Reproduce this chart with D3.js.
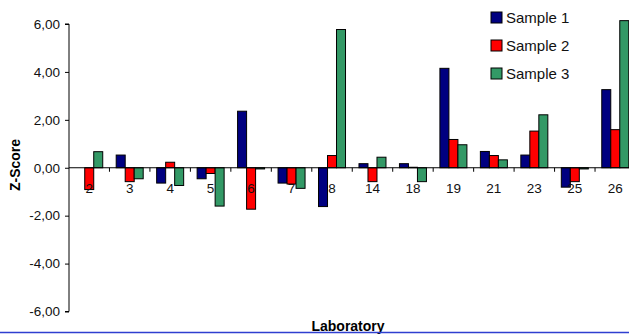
<!DOCTYPE html>
<html>
<head>
<meta charset="utf-8">
<script src="https://cdn.jsdelivr.net/npm/d3@7"></script>
<style>
  html, body { margin: 0; padding: 0; background: #fff; }
  svg { display: block; font-family: "Liberation Sans", Arial, sans-serif; }
</style>
</head>
<body>
<svg id="chart" width="629" height="334"></svg>
<script>
// Z-scores per laboratory for three samples
const laboratories = ["2", "3", "4", "5", "6", "7", "8", "14", "18", "19", "21", "23", "25", "26"];
const seriesNames = ["Sample 1", "Sample 2", "Sample 3"];
const sample1 = [0.00, 0.53, -0.64, -0.46, 2.36, -0.64, -1.62, 0.17, 0.17, 4.15, 0.68, 0.53, -0.81, 3.26];
const sample2 = [-0.91, -0.58, 0.23, -0.24, -1.73, -0.68, 0.51, -0.58, 0.02, 1.18, 0.51, 1.53, -0.58, 1.59];
const sample3 = [0.67, -0.46, -0.74, -1.60, -0.05, -0.86, 5.77, 0.44, -0.58, 0.96, 0.33, 2.21, -0.05, 6.14];
const seriesColors = ["#000080", "#FF0000", "#339966"];
const yTicks = [-6, -4, -2, 0, 2, 4, 6];

const seriesValues = [sample1, sample2, sample3];
const rows = laboratories.map((lab, i) => ({
  lab,
  values: seriesNames.map((name, s) => ({ name, color: seriesColors[s], value: seriesValues[s][i] }))
}));

const svg = d3.select("#chart");
const plotLeft = 69, plotRight = 635.5, plotTop = 24, plotBottom = 311.5;

const x0 = d3.scaleBand().domain(laboratories).range([plotLeft, plotRight]).padding(0);
const x1 = d3.scaleBand().domain(seriesNames).range([0, x0.bandwidth()]).paddingInner(0).paddingOuter(0.748);
const y = d3.scaleLinear().domain([-6, 6]).range([plotBottom, plotTop]);

const fmt = v => d3.format(".2f")(v).replace(".", ",").replace("−", "-");

// bars
const groups = svg.append("g").selectAll("g").data(rows).join("g")
  .attr("transform", d => `translate(${x0(d.lab)},0)`);
groups.selectAll("rect").data(d => d.values).join("rect")
  .attr("x", d => x1(d.name))
  .attr("width", x1.bandwidth())
  .attr("y", d => y(Math.max(0, d.value)))
  .attr("height", d => Math.abs(y(d.value) - y(0)))
  .attr("fill", d => d.color)
  .attr("stroke", "#000")
  .attr("stroke-width", 1);

// y axis
const yAxis = svg.append("g")
  .attr("transform", `translate(${plotLeft},0)`)
  .call(d3.axisLeft(y).tickValues(yTicks).tickFormat(fmt).tickSize(4).tickPadding(5));
yAxis.select(".domain").attr("stroke", "#000").attr("d", `M-4,${y(-6)}H0V${y(6)}H-4`);
yAxis.selectAll(".tick line").attr("stroke", "#000");
yAxis.selectAll("text").attr("font-size", "13.5px").attr("fill", "#111")
  .attr("font-family", "Liberation Sans, Arial, sans-serif");

// x axis along zero line
const xAxis = svg.append("g").attr("transform", `translate(0,${y(0)})`);
xAxis.append("line").attr("x1", plotLeft).attr("x2", 629).attr("stroke", "#000");
xAxis.selectAll("line.tick").data(laboratories.slice(1)).join("line")
  .attr("class", "tick")
  .attr("x1", d => x0(d)).attr("x2", d => x0(d))
  .attr("y1", 0).attr("y2", 4)
  .attr("stroke", "#000");
xAxis.selectAll("text").data(laboratories).join("text")
  .attr("x", d => x0(d) + x0.bandwidth() / 2)
  .attr("y", 25.5)
  .attr("text-anchor", "middle")
  .attr("font-size", "13.5px")
  .attr("fill", "#111")
  .text(d => d);

// axis titles
svg.append("text")
  .attr("transform", `translate(20,165) rotate(-90)`)
  .attr("text-anchor", "middle")
  .attr("font-size", "14px").attr("font-weight", "bold")
  .text("Z-Score");
svg.append("text")
  .attr("x", 348).attr("y", 330.5)
  .attr("text-anchor", "middle")
  .attr("font-size", "14px").attr("font-weight", "bold")
  .text("Laboratory");

// legend
const legend = svg.append("g").selectAll("g").data(seriesNames).join("g")
  .attr("transform", (d, i) => `translate(491,${17.5 + i * 28})`);
legend.append("rect")
  .attr("x", 0).attr("y", -5.5).attr("width", 11).attr("height", 11)
  .attr("fill", (d, i) => seriesColors[i])
  .attr("stroke", "#000");
legend.append("text")
  .attr("x", 15).attr("y", 5.5)
  .attr("font-size", "15px").attr("fill", "#111")
  .text(d => d);

// frame line along the bottom edge
svg.append("line")
  .attr("x1", 0).attr("x2", 629).attr("y1", 332.5).attr("y2", 332.5)
  .attr("stroke", "#2f3fd0").attr("stroke-width", 1.5);
</script>
</body>
</html>
